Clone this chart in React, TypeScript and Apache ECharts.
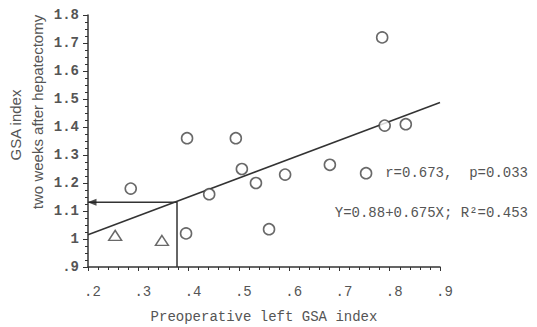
import React, { useEffect, useRef } from "react";
import * as echarts from "echarts";

// Patients with hollow circle markers
const circleX = [0.285, 0.397, 0.395, 0.494, 0.506, 0.441, 0.534, 0.56, 0.592, 0.681, 0.753, 0.785, 0.79, 0.832];
const circleY = [1.18, 1.36, 1.02, 1.36, 1.25, 1.16, 1.2, 1.035, 1.23, 1.265, 1.235, 1.72, 1.405, 1.41];
// Patients with hollow triangle markers
const triangleX = [0.254, 0.347];
const triangleY = [1.013, 0.995];
// Regression: Y = 0.88 + 0.675X
const regIntercept = 0.88;
const regSlope = 0.675;
const regRange = [0.2, 0.9];
// Reference reading
const refX = 0.377;
const refY = 1.131;

const xTickValues = [0.2, 0.3, 0.4, 0.5, 0.6, 0.7, 0.8, 0.9];
const yTickValues = [0.9, 1.0, 1.1, 1.2, 1.3, 1.4, 1.5, 1.6, 1.7, 1.8];

const statText1 = "r=0.673,  p=0.033";
const statText2 = "Y=0.88+0.675X; R\u00b2=0.453";

const fmt = (v: number) => {
  let s = v.toFixed(1);
  if (s.startsWith("0")) s = s.slice(1);
  if (s.endsWith(".0")) s = s.slice(0, -2);
  return s;
};

const INK = "#333";
const LABEL = "#555";
const MONO = "'Liberation Mono', 'DejaVu Sans Mono', monospace";
const SANS = "'Liberation Sans', Arial, sans-serif";

export default function App() {
  const ref = useRef<HTMLDivElement>(null);
  useEffect(() => {
    if (!ref.current) return;
    const chart = echarts.init(ref.current, undefined, { renderer: "svg" });
    const circles = circleX.map((x, i) => [x, circleY[i]]);
    const triangles = triangleX.map((x, i) => [x, triangleY[i]]);
    const reg = regRange.map((x) => [x, regIntercept + regSlope * x]);
    chart.setOption({
      animation: false,
      backgroundColor: "#fff",
      grid: { left: 88, right: 97, top: 15, bottom: 60, containLabel: false, outerBoundsMode: "none" },
      xAxis: {
        type: "value",
        min: xTickValues[0],
        max: xTickValues[xTickValues.length - 1],
        interval: 0.1,
        axisLine: { show: true, lineStyle: { color: INK, width: 1.5 } },
        axisTick: { show: true, length: 4, lineStyle: { color: INK } },
        minorTick: { show: true, splitNumber: 5, length: 3, lineStyle: { color: INK } },
        splitLine: { show: false },
        axisLabel: {
          formatter: fmt,
          color: LABEL,
          fontFamily: MONO,
          fontSize: 14,
          margin: 18,
          padding: [0, 0, 0, 9],
        },
        name: "Preoperative left GSA index",
        nameLocation: "middle",
        nameGap: 43,
        nameTextStyle: { color: LABEL, fontFamily: MONO, fontSize: 14 },
      },
      yAxis: {
        type: "value",
        min: yTickValues[0],
        max: yTickValues[yTickValues.length - 1],
        interval: 0.1,
        axisLine: { show: true, lineStyle: { color: INK, width: 1.5 } },
        axisTick: { show: true, length: 5, lineStyle: { color: INK } },
        minorTick: { show: true, splitNumber: 4, length: 3, lineStyle: { color: INK } },
        splitLine: { show: false },
        axisLabel: {
          formatter: fmt,
          color: LABEL,
          fontFamily: MONO,
          fontSize: 14,
          fontWeight: "bold",
          margin: 9,
        },
      },
      graphic: [
        {
          type: "text",
          x: 15,
          y: 125,
          rotation: Math.PI / 2,
          style: { text: "GSA index", fill: LABEL, font: `15px ${SANS}`, textAlign: "center", textVerticalAlign: "middle" },
        },
        {
          type: "text",
          x: 37,
          y: 112,
          rotation: Math.PI / 2,
          style: { text: "two weeks after hepatectomy", fill: LABEL, font: `15px ${SANS}`, textAlign: "center", textVerticalAlign: "middle" },
        },
        {
          type: "text",
          x: 528,
          y: 173,
          style: { text: statText1, fill: LABEL, font: `14px ${MONO}`, textAlign: "right", textVerticalAlign: "middle" },
        },
        {
          type: "text",
          x: 528,
          y: 213,
          style: { text: statText2, fill: LABEL, font: `14px ${MONO}`, textAlign: "right", textVerticalAlign: "middle" },
        },
      ],
      series: [
        {
          type: "line",
          data: reg,
          symbol: "none",
          lineStyle: { color: INK, width: 1.5 },
          silent: true,
          z: 2,
        },
        {
          type: "line",
          data: [
            [xTickValues[0], refY],
            [refX, refY],
            [refX, yTickValues[0]],
          ],
          symbol: "none",
          lineStyle: { color: INK, width: 1.5 },
          silent: true,
          z: 2,
        },
        {
          type: "scatter",
          data: [[xTickValues[0] + 0.008, refY]],
          symbol: "triangle",
          symbolRotate: 90,
          symbolSize: [7, 9],
          itemStyle: { color: "#222" },
          z: 4,
        },
        {
          type: "scatter",
          data: circles,
          symbol: "circle",
          symbolSize: 11,
          itemStyle: { color: "#fff", borderColor: "#444", borderWidth: 1.6 },
          z: 3,
        },
        {
          type: "scatter",
          data: triangles,
          symbol: "triangle",
          symbolSize: [13, 10],
          itemStyle: { color: "#fff", borderColor: "#444", borderWidth: 1.4 },
          z: 3,
        },
      ],
    });
    return () => chart.dispose();
  }, []);
  return <div ref={ref} style={{ width: 537, height: 327, position: "absolute", left: 0, top: 0 }} />;
}
